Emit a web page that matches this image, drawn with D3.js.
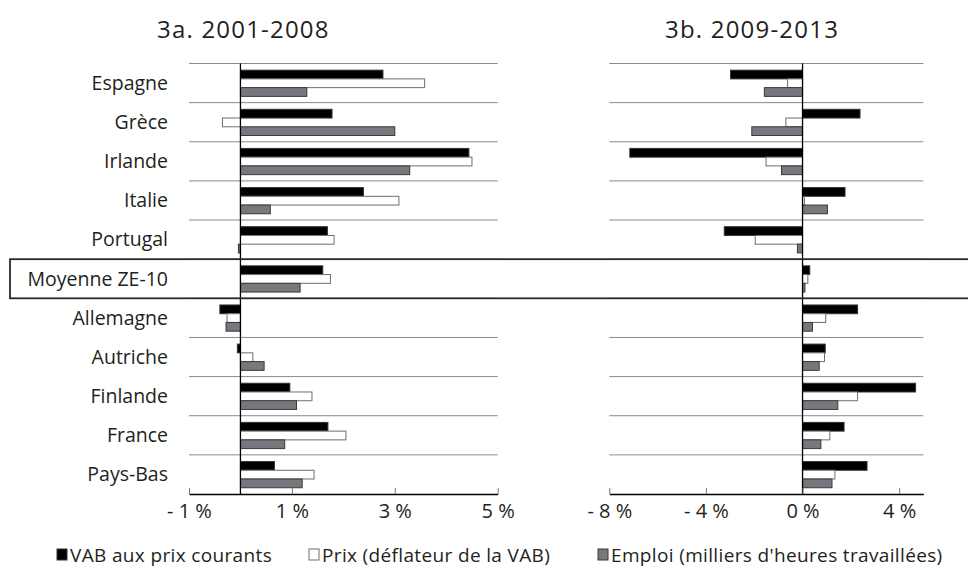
<!DOCTYPE html>
<html>
<head>
<meta charset="utf-8">
<script src="https://cdn.jsdelivr.net/npm/d3@7"></script>
<style>
  body { margin: 0; background: #fff; }
  svg text { font-family: "Open Sans", sans-serif; fill: #231f20; }
</style>
</head>
<body>
<div id="chart"></div>
<script>
// Categories, series and values (% par an)
const countries = ["Espagne", "Grèce", "Irlande", "Italie", "Portugal", "Moyenne ZE-10",
  "Allemagne", "Autriche", "Finlande", "France", "Pays-Bas"];
const seriesNames = ["VAB aux prix courants", "Prix (déflateur de la VAB)", "Emploi (milliers d'heures travaillées)"];

// 3a. 2001-2008
const vab0108 =    [2.77, 1.78, 4.44, 2.39, 1.69, 1.60, -0.40, -0.06, 0.96, 1.70, 0.66];
const prix0108 =   [3.58, -0.35, 4.50, 3.08, 1.82, 1.75, -0.26, 0.24, 1.39, 2.05, 1.43];
const emploi0108 = [1.29, 3.00, 3.29, 0.58, -0.04, 1.16, -0.28, 0.46, 1.09, 0.86, 1.20];

// 3b. 2009-2013
const vab0913 =    [-2.98, 2.38, -7.15, 1.76, -3.24, 0.30, 2.28, 0.94, 4.68, 1.72, 2.67];
const prix0913 =   [-0.62, -0.69, -1.51, 0.08, -1.96, 0.22, 0.96, 0.91, 2.28, 1.13, 1.34];
const emploi0913 = [-1.58, -2.10, -0.87, 1.03, -0.21, 0.10, 0.41, 0.69, 1.46, 0.76, 1.22];

const ticksA = [-1, 1, 3, 5];
const ticksB = [-8, -4, 0, 4];

const width = 968, height = 569;
const svg = d3.select("#chart").append("svg")
  .attr("width", width).attr("height", height);

const y = d3.scaleBand().domain(countries).range([63.5, 494]);
const ySeries = d3.scaleBand().domain(seriesNames).range([y.bandwidth() * 0.17, y.bandwidth() * 0.84]);

const fills = ["#000000", "#ffffff", "#77777d"];
const strokes = ["#333333", "#6f6f6f", "#3a3a3a"];

const fmt = d => d === 0 ? "0 %" : (d < 0 ? "- " + Math.abs(d) + " %" : d + " %");

function panel(title, titleX, domain, range, ticks, values) {
  const x = d3.scaleLinear().domain(domain).range(range);
  const g = svg.append("g");

  g.append("text")
    .attr("x", titleX).attr("y", 38)
    .attr("font-size", 24)
    .attr("letter-spacing", 1.2)
    .text(title);

  // row separators
  const bounds = countries.map(c => y(c));
  g.selectAll("line.sep")
    .data(bounds)
    .join("line")
    .attr("class", "sep")
    .attr("x1", range[0]).attr("x2", range[1])
    .attr("y1", d => d).attr("y2", d => d)
    .attr("stroke", "#8a8a8a").attr("stroke-width", 1);

  // bars
  const data = [];
  countries.forEach((c, i) => {
    values.forEach((arr, s) => data.push({ c, s, v: arr[i] }));
  });
  g.selectAll("rect.bar")
    .data(data)
    .join("rect")
    .attr("class", "bar")
    .attr("x", d => x(Math.min(0, d.v)))
    .attr("y", d => y(d.c) + ySeries(seriesNames[d.s]))
    .attr("width", d => Math.abs(x(d.v) - x(0)))
    .attr("height", ySeries.bandwidth())
    .attr("fill", d => fills[d.s])
    .attr("stroke", d => strokes[d.s])
    .attr("stroke-width", 1);

  // zero line
  g.append("line")
    .attr("x1", x(0)).attr("x2", x(0))
    .attr("y1", y.range()[0]).attr("y2", y.range()[1])
    .attr("stroke", "#000").attr("stroke-width", 1.3);

  // axis
  const axis = g.append("g")
    .attr("transform", `translate(0,${y.range()[1]})`)
    .call(d3.axisBottom(x).tickValues(ticks).tickSizeInner(-6).tickSizeOuter(0).tickPadding(10).tickFormat(fmt));
  axis.select(".domain").attr("stroke", "#000").attr("stroke-width", 1.3);
  axis.selectAll(".tick line").attr("stroke", "#777");
  axis.selectAll(".tick text").attr("font-size", 20).attr("font-family", "'Open Sans', sans-serif").attr("fill", "#231f20");
  return x;
}

panel("3a. 2001-2008", 157, [-1, 5], [189, 497.7], ticksA, [vab0108, prix0108, emploi0108]);
panel("3b. 2009-2013", 665, [-8, 5], [609.3, 923.3], ticksB, [vab0913, prix0913, emploi0913]);

// category labels
svg.append("g").selectAll("text")
  .data(countries)
  .join("text")
  .attr("x", 168)
  .attr("y", d => y(d) + y.bandwidth() / 2)
  .attr("dy", "0.35em")
  .attr("text-anchor", "end")
  .attr("font-size", 19.5)
  .text(d => d);

// box around the average row
svg.append("rect")
  .attr("x", 10).attr("y", y("Moyenne ZE-10"))
  .attr("width", 970).attr("height", y.bandwidth())
  .attr("fill", "none").attr("stroke", "#2a2a2a").attr("stroke-width", 1.8);

// legend
const legendX = [57, 309, 598];
const lg = svg.append("g").selectAll("g")
  .data(seriesNames)
  .join("g")
  .attr("transform", (d, i) => `translate(${legendX[i]},549)`);
lg.append("rect")
  .attr("width", 10).attr("height", 11)
  .attr("fill", (d, i) => fills[i])
  .attr("stroke", (d, i) => strokes[i]);
lg.append("text")
  .attr("x", 13).attr("y", 6).attr("dy", "0.35em")
  .attr("font-size", 19)
  .attr("letter-spacing", 0.35)
  .text(d => d);
</script>
</body>
</html>
